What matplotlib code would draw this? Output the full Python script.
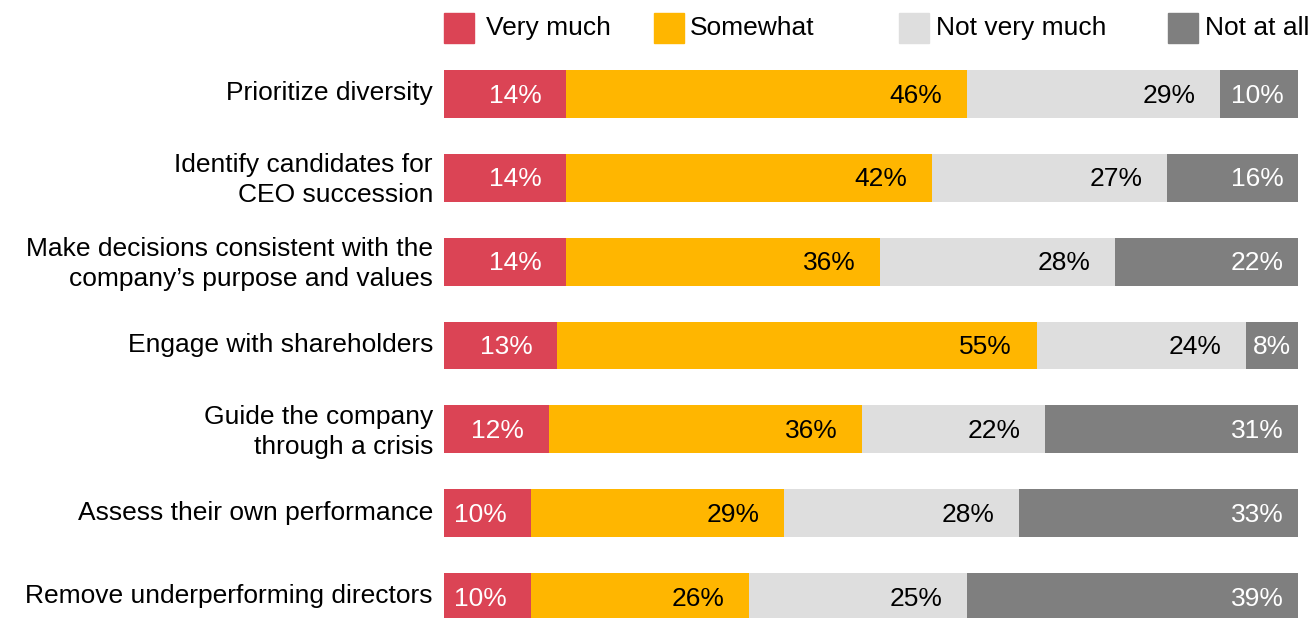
import numpy as np
import matplotlib
matplotlib.use('Agg')
import matplotlib.pyplot as plt
from matplotlib.patches import Rectangle
from matplotlib.transforms import ScaledTranslation

plt.rcParams['font.family'] = ['Liberation Sans', 'DejaVu Sans']

categories = ['Prioritize diversity',
              'Identify candidates for\nCEO succession',
              'Make decisions consistent with the\ncompany\u2019s purpose and values',
              'Engage with shareholders',
              'Guide the company\nthrough a crisis',
              'Assess their own performance',
              'Remove underperforming directors']
series_names = ['Very much', 'Somewhat', 'Not very much', 'Not at all']

# printed labels
very_much = [14, 14, 14, 13, 12, 10, 10]
somewhat = [46, 42, 36, 55, 36, 29, 26]
not_very_much = [29, 27, 28, 24, 22, 28, 25]
not_at_all = [10, 16, 22, 8, 31, 33, 39]

# segment lengths as drawn in the source (full bar = 98)
len_very_much = [14, 14, 14, 13, 12, 10, 10]
len_somewhat = [46, 42, 36, 55, 36, 29, 25]
len_not_very_much = [29, 27, 27, 24, 21, 27, 25]
len_not_at_all = [9, 15, 21, 6, 29, 32, 38]

colors = ['#DB4455', '#FFB600', '#DEDEDE', '#7F7F7F']
text_colors = ['white', 'black', 'black', 'white']

labels = [very_much, somewhat, not_very_much, not_at_all]
lengths = np.array([len_very_much, len_somewhat, len_not_very_much, len_not_at_all], dtype=float)

W, H = 1314, 618
fig = plt.figure(figsize=(W / 100, H / 100), dpi=100)
ax = fig.add_axes([444 / W, 0, (1298 - 444) / W, (618 - 52) / H])

y = np.arange(len(categories))
left = np.zeros(len(categories))
fs = 19
for k in range(4):
    ax.barh(y, lengths[k], left=left, height=0.57, color=colors[k], edgecolor='none')
    for i in range(len(categories)):
        seg = lengths[k][i]
        end = left[i] + seg
        if seg < 7:  # too narrow, centre it
            ax.text(end - seg / 2, y[i] + 0.02, f'{labels[k][i]}%', ha='center', va='center',
                    color=text_colors[k], fontsize=fs)
        else:
            pad = 1.6 if k == 3 else 2.8
            ax.text(end - pad, y[i] + 0.02, f'{labels[k][i]}%', ha='right', va='center',
                    color=text_colors[k], fontsize=fs)
    left += lengths[k]

ax.set_xlim(0, 98)
ax.set_ylim(6 + 21 / 83.83, -0.5)
ax.set_yticks(y)
ax.set_yticklabels(categories, fontsize=fs, linespacing=1.3)
ax.tick_params(axis='y', length=0, pad=8)
up = ScaledTranslation(0, 3 / 100, fig.dpi_scale_trans)
for lab in ax.get_yticklabels():
    lab.set_transform(lab.get_transform() + up)
ax.set_xticks([])
for s in ax.spines.values():
    s.set_visible(False)

# legend row
box_x = [444, 654, 899, 1168]
txt_x = [486, 690, 936, 1205]
for k, name in enumerate(series_names):
    fig.patches.append(Rectangle((box_x[k] / W, 1 - 43 / H), 30 / W, 30 / H,
                                 transform=fig.transFigure, color=colors[k]))
    fig.text(txt_x[k] / W, 1 - 28 / H, name, ha='left', va='center', fontsize=fs)

fig.savefig('out.png', dpi=100)
